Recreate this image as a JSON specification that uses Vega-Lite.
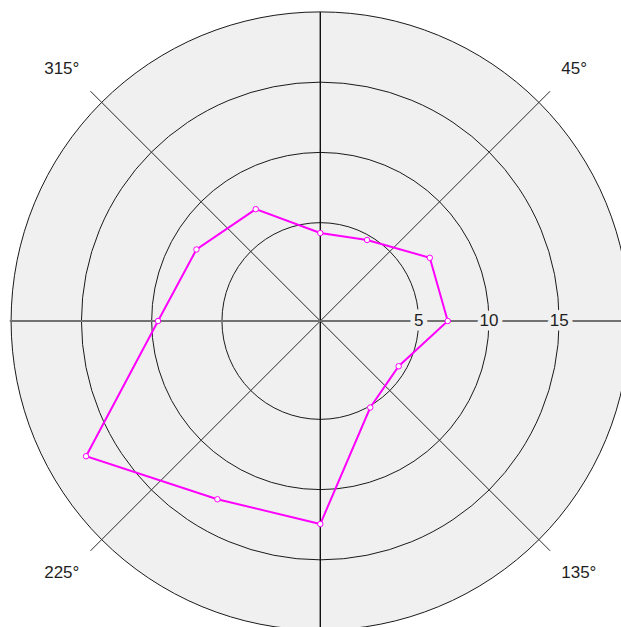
{
  "$schema": "https://vega.github.io/schema/vega-lite/v6.json",
  "width": 621,
  "height": 627,
  "padding": 0,
  "autosize": {"type": "none"},
  "background": "#ffffff",
  "config": {"view": {"stroke": null}},
  "datasets": {
    "rings": [{"value": 5}, {"value": 10}, {"value": 15}, {"value": 20}],
    "spokes": [
      {"angle": 0, "value": 20}, {"angle": 90, "value": 20.1},
      {"angle": 180, "value": 20}, {"angle": 270, "value": 20.1},
      {"angle": 45, "value": 21.13}, {"angle": 135, "value": 21.13},
      {"angle": 225, "value": 21.13}, {"angle": 315, "value": 21.13}
    ],
    "series": [
      {"angle": 0, "value": 4.26},
      {"angle": 30, "value": 4.66},
      {"angle": 60, "value": 7.0},
      {"angle": 90, "value": 7.07},
      {"angle": 120, "value": 4.44},
      {"angle": 150, "value": 5.11},
      {"angle": 180, "value": 12.45},
      {"angle": 210, "value": 12.65},
      {"angle": 240, "value": 17.25},
      {"angle": 270, "value": 9.55},
      {"angle": 300, "value": 8.18},
      {"angle": 330, "value": 7.19},
      {"angle": 360, "value": 4.26}
    ],
    "angleLabels": [
      {"label": "45°", "angle": 45},
      {"label": "135°", "angle": 135},
      {"label": "225°", "angle": 225},
      {"label": "315°", "angle": 315}
    ]
  },
  "layer": [
    {
      "data": {"name": "rings"},
      "transform": [{"filter": "datum.value == 20"}, {"calculate": "0", "as": "cx"}, {"calculate": "0", "as": "cy"}, {"calculate": "-2", "as": "r0"}],
      "mark": {"type": "arc", "theta": 0, "theta2": 6.2832, "fill": "#f0f0f0"},
      "encoding": {
        "x": {"field": "cx", "type": "quantitative", "scale": {"domain": [-22.797, 21.402], "nice": false, "zero": false}, "axis": null},
        "y": {"field": "cy", "type": "quantitative", "scale": {"domain": [-21.779, 22.847], "nice": false, "zero": false}, "axis": null},
        "radius": {"field": "value", "type": "quantitative", "stack": null, "scale": {"type": "linear", "domain": [-2, 20], "range": [0, 309.1], "zero": false, "nice": false}, "legend": null},
        "radius2": {"field": "r0"}
      }
    },
    {
      "data": {"name": "rings"},
      "transform": [{"calculate": "0", "as": "cx"}, {"calculate": "0", "as": "cy"}, {"calculate": "-2", "as": "r0"}],
      "mark": {"type": "arc", "theta": 0, "theta2": 6.2832, "filled": false, "stroke": "#1a1a1a", "strokeWidth": 1},
      "encoding": {
        "x": {"field": "cx", "type": "quantitative", "scale": {"domain": [-22.797, 21.402], "nice": false, "zero": false}, "axis": null},
        "y": {"field": "cy", "type": "quantitative", "scale": {"domain": [-21.779, 22.847], "nice": false, "zero": false}, "axis": null},
        "radius": {"field": "value", "type": "quantitative", "stack": null, "scale": {"type": "linear", "domain": [-2, 20], "range": [0, 309.1], "zero": false, "nice": false}, "legend": null},
        "radius2": {"field": "r0"}
      }
    },
    {
      "data": {"name": "spokes"},
      "transform": [
        {"filter": "datum.angle % 90 != 0"},
        {"calculate": "0", "as": "cx"}, {"calculate": "0", "as": "cy"},
        {"calculate": "(datum.value + 2) * sin(datum.angle * PI / 180)", "as": "ex"},
        {"calculate": "(datum.value + 2) * cos(datum.angle * PI / 180)", "as": "ey"}
      ],
      "mark": {"type": "rule", "stroke": "#2a2a2a", "strokeWidth": 1},
      "encoding": {
        "x": {"field": "cx", "type": "quantitative", "scale": {"domain": [-22.797, 21.402], "nice": false, "zero": false}, "axis": null},
        "y": {"field": "cy", "type": "quantitative", "scale": {"domain": [-21.779, 22.847], "nice": false, "zero": false}, "axis": null},
        "x2": {"field": "ex"},
        "y2": {"field": "ey"}
      }
    },
    {
      "data": {"name": "spokes"},
      "transform": [
        {"filter": "datum.angle == 0 || datum.angle == 180"},
        {"calculate": "0", "as": "cx"}, {"calculate": "0", "as": "cy"},
        {"calculate": "(datum.value + 2) * sin(datum.angle * PI / 180)", "as": "ex"},
        {"calculate": "(datum.value + 2) * cos(datum.angle * PI / 180)", "as": "ey"}
      ],
      "mark": {"type": "rule", "stroke": "#111111", "strokeWidth": 1.4},
      "encoding": {
        "x": {"field": "cx", "type": "quantitative", "scale": {"domain": [-22.797, 21.402], "nice": false, "zero": false}, "axis": null},
        "y": {"field": "cy", "type": "quantitative", "scale": {"domain": [-21.779, 22.847], "nice": false, "zero": false}, "axis": null},
        "x2": {"field": "ex"},
        "y2": {"field": "ey"}
      }
    },
    {
      "data": {"name": "spokes"},
      "transform": [
        {"filter": "datum.angle == 90 || datum.angle == 270"},
        {"calculate": "0", "as": "cx"}, {"calculate": "0", "as": "cy"},
        {"calculate": "(datum.value + 2) * sin(datum.angle * PI / 180)", "as": "ex"},
        {"calculate": "(datum.value + 2) * cos(datum.angle * PI / 180)", "as": "ey"}
      ],
      "mark": {"type": "rule", "stroke": "#727272", "strokeWidth": 2},
      "encoding": {
        "x": {"field": "cx", "type": "quantitative", "scale": {"domain": [-22.797, 21.402], "nice": false, "zero": false}, "axis": null},
        "y": {"field": "cy", "type": "quantitative", "scale": {"domain": [-21.779, 22.847], "nice": false, "zero": false}, "axis": null},
        "x2": {"field": "ex"},
        "y2": {"field": "ey"}
      }
    },
    {
      "data": {"name": "series"},
      "transform": [
        {"calculate": "(datum.value + 2) * sin(datum.angle * PI / 180)", "as": "px"},
        {"calculate": "(datum.value + 2) * cos(datum.angle * PI / 180)", "as": "py"}
      ],
      "mark": {"type": "line", "stroke": "#ff00ff", "strokeWidth": 2},
      "encoding": {
        "x": {"field": "px", "type": "quantitative", "scale": {"domain": [-22.797, 21.402], "nice": false, "zero": false}, "axis": null},
        "y": {"field": "py", "type": "quantitative", "scale": {"domain": [-21.779, 22.847], "nice": false, "zero": false}, "axis": null},
        "order": {"field": "angle", "type": "quantitative"}
      }
    },
    {
      "data": {"name": "series"},
      "transform": [
        {"filter": "datum.angle < 360"},
        {"calculate": "(datum.value + 2) * sin(datum.angle * PI / 180)", "as": "px"},
        {"calculate": "(datum.value + 2) * cos(datum.angle * PI / 180)", "as": "py"}
      ],
      "mark": {"type": "point", "shape": "circle", "filled": true, "fill": "#ffffff", "stroke": "#ff00ff", "strokeWidth": 1, "size": 30, "opacity": 1},
      "encoding": {
        "x": {"field": "px", "type": "quantitative", "scale": {"domain": [-22.797, 21.402], "nice": false, "zero": false}, "axis": null},
        "y": {"field": "py", "type": "quantitative", "scale": {"domain": [-21.779, 22.847], "nice": false, "zero": false}, "axis": null}
      }
    },
    {
      "data": {"name": "rings"},
      "transform": [
        {"filter": "datum.value < 20"},
        {"calculate": "datum.value + 2", "as": "lx"},
        {"calculate": "0", "as": "cy"}
      ],
      "mark": {"type": "text", "font": "Liberation Sans", "fontSize": 17, "align": "center", "baseline": "middle", "fill": "#f0f0f0", "stroke": "#f0f0f0", "strokeWidth": 9, "strokeJoin": "round"},
      "encoding": {
        "x": {"field": "lx", "type": "quantitative", "scale": {"domain": [-22.797, 21.402], "nice": false, "zero": false}, "axis": null},
        "y": {"field": "cy", "type": "quantitative", "scale": {"domain": [-21.779, 22.847], "nice": false, "zero": false}, "axis": null},
        "text": {"field": "value", "type": "quantitative"}
      }
    },
    {
      "data": {"name": "rings"},
      "transform": [
        {"filter": "datum.value < 20"},
        {"calculate": "datum.value + 2", "as": "lx"},
        {"calculate": "0", "as": "cy"}
      ],
      "mark": {"type": "text", "font": "Liberation Sans", "fontSize": 17, "align": "center", "baseline": "middle", "fill": "#1e1e1e"},
      "encoding": {
        "x": {"field": "lx", "type": "quantitative", "scale": {"domain": [-22.797, 21.402], "nice": false, "zero": false}, "axis": null},
        "y": {"field": "cy", "type": "quantitative", "scale": {"domain": [-21.779, 22.847], "nice": false, "zero": false}, "axis": null},
        "text": {"field": "value", "type": "quantitative"}
      }
    },
    {
      "data": {"name": "angleLabels"},
      "transform": [
        {"filter": "datum.angle < 180"},
        {"calculate": "24.25 * sin(datum.angle * PI / 180)", "as": "lx"},
        {"calculate": "25.36 * cos(datum.angle * PI / 180)", "as": "ly"}
      ],
      "mark": {"type": "text", "font": "Liberation Sans", "fontSize": 17, "align": "left", "baseline": "middle", "fill": "#1e1e1e"},
      "encoding": {
        "x": {"field": "lx", "type": "quantitative", "scale": {"domain": [-22.797, 21.402], "nice": false, "zero": false}, "axis": null},
        "y": {"field": "ly", "type": "quantitative", "scale": {"domain": [-21.779, 22.847], "nice": false, "zero": false}, "axis": null},
        "text": {"field": "label", "type": "nominal"}
      }
    },
    {
      "data": {"name": "angleLabels"},
      "transform": [
        {"filter": "datum.angle > 180"},
        {"calculate": "24.25 * sin(datum.angle * PI / 180)", "as": "lx"},
        {"calculate": "25.36 * cos(datum.angle * PI / 180)", "as": "ly"}
      ],
      "mark": {"type": "text", "font": "Liberation Sans", "fontSize": 17, "align": "right", "baseline": "middle", "fill": "#1e1e1e"},
      "encoding": {
        "x": {"field": "lx", "type": "quantitative", "scale": {"domain": [-22.797, 21.402], "nice": false, "zero": false}, "axis": null},
        "y": {"field": "ly", "type": "quantitative", "scale": {"domain": [-21.779, 22.847], "nice": false, "zero": false}, "axis": null},
        "text": {"field": "label", "type": "nominal"}
      }
    }
  ]
}
